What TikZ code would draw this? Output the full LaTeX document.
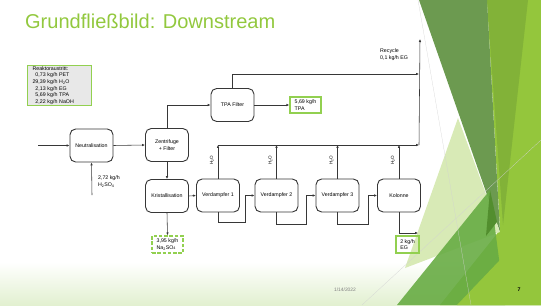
\documentclass[tikz,border=0pt]{standalone}
\usepackage{fontspec}
\setmainfont{Liberation Sans}
\usetikzlibrary{arrows.meta, positioning, calc}
\definecolor{titlegreen}{RGB}{146,200,62}
\definecolor{framegreen}{RGB}{146,208,80}
\definecolor{darkleaf}{RGB}{108,154,80}
\definecolor{deepleaf}{RGB}{82,142,46}
\definecolor{oliveleaf}{RGB}{130,178,56}
\definecolor{limeleaf}{RGB}{148,198,60}
\definecolor{paleleaf}{RGB}{216,234,182}
\definecolor{midleaf}{RGB}{104,172,68}
\definecolor{footgreen}{RGB}{226,240,208}
\definecolor{linegray}{RGB}{55,55,55}

\begin{document}
\begin{tikzpicture}[x=0.5mm, y=-0.5mm,
  unit/.style={draw=linegray, line width=1.3pt, rounded corners=8pt, fill=white, minimum width=21.5mm, minimum height=16.5mm, inner sep=0pt, align=center, font=\fontsize{7.5}{9}\selectfont},
  stream/.style={draw=framegreen, line width=2pt, inner sep=2pt, align=left, font=\fontsize{7.5}{9}\selectfont},
  flow/.style={draw=linegray, line width=0.8pt, -{Latex[length=4pt,width=3.5pt]}},
  lbl/.style={font=\fontsize{7.5}{9}\selectfont, align=left, inner sep=0pt},
  water/.style={font=\fontsize{6.5}{8}\selectfont, inner sep=0pt, rotate=90}
]
  \useasboundingbox (0,0) rectangle (541,305);
  % slide background
  \shade[top color=white, bottom color=footgreen] (0,262) rectangle (541,305);
  \fill[limeleaf] (487,0) -- (541,0) -- (541,305) -- (440,305) -- (500,230) -- cycle;
  \fill[oliveleaf] (487,0) -- (528,0) -- (503,225) -- cycle;
  \fill[darkleaf] (419,0) -- (487,0) -- (500,232) -- cycle;
  \fill[paleleaf] (458,118) -- (500,232) -- (405,268) -- cycle;
  \fill[midleaf, opacity=0.9] (397,305) -- (490,190) -- (505,305) -- cycle;
  \fill[deepleaf] (490,190) -- (497,222) -- (486,236) -- cycle;
  \fill[limeleaf] (457,305) -- (541,217) -- (541,305) -- cycle;
  \draw[gray!35, line width=0.3pt] (418,0) -- (471,305);
  \draw[gray!35, line width=0.3pt] (541,140) -- (362,305);
  \node[titlegreen, anchor=base west, inner sep=0pt, font=\fontsize{28.5}{30}\selectfont] (title) at (25,28) {Grundfließbild: Downstream};
  \node[anchor=base, inner sep=0pt, text=gray, font=\fontsize{7}{8}\selectfont] (date) at (345,291) {1/14/2022};
  \node[anchor=base, inner sep=0pt, font=\bfseries\fontsize{7.5}{8}\selectfont] (page) at (519,291) {7};

  % feed
  \node[draw=framegreen, line width=1.5pt, fill=black!9, anchor=north west, font=\fontsize{7.5}{9.3}\selectfont, align=left, text width=27mm, minimum height=18.5mm, inner xsep=2.5mm, inner ysep=1.5pt] (feed) at (27,65) {Reaktoraustritt:\\\phantom{2}0,73 kg/h PET\\29,39 kg/h H\textsubscript{2}O\\\phantom{2}2,13 kg/h EG\\\phantom{2}5,69 kg/h TPA\\\phantom{2}2,22 kg/h NaOH};

  % units
  \node[unit] (neutral) at (91.5,145.5) {Neutralisation};
  \node[unit] (zentri) at (167,145) {Zentrifuge\\+ Filter};
  \node[unit] (kristall) at (167,196) {Kristallisation};
  \node[unit] (tpafilt) at (232.5,105) {TPA Filter};
  \node[unit] (verd1) at (218,195.5) {Verdampfer 1};
  \node[unit] (verd2) at (276.5,195.5) {Verdampfer 2};
  \node[unit] (verd3) at (337.5,195.5) {Verdampfer 3};
  \node[unit] (kolonne) at (399,195.5) {Kolonne};

  % products
  \node[stream, minimum width=15.5mm, minimum height=8mm] (tpaout) at (305.5,105) {5,69 kg/h\\TPA};
  \node[stream, dash pattern=on 5pt off 2.5pt, minimum width=15.5mm, minimum height=8.5mm] (sulfat) at (167.5,244.5) {3,95 kg/h\\Na\textsubscript{2}SO\textsubscript{4}};
  \node[stream, minimum width=11.5mm, minimum height=8.5mm] (egout) at (407.5,244.5) {2 kg/h\\EG};

  % free ends
  \coordinate (feedin) at (38,145.5);
  \coordinate (acidin) at (92,195);
  \coordinate (recycle) at (419,74);
  \coordinate (collect) at (419,145);
  \coordinate (rectop) at (420,39);
  \coordinate (egend) at (418,233);

  % streams
  \draw[flow] (feedin) -- (neutral.west);
  \draw[flow] (acidin) -- (neutral.south);
  \node[lbl, anchor=north west] (acid) at (98,176) {2,72 kg/h\\H\textsubscript{2}SO\textsubscript{4}};
  \draw[flow] (neutral.east) -- (zentri.west);
  \draw[flow] (zentri.north) |- (tpafilt.west);
  \draw[flow] (zentri.south) -- (kristall.north);
  \draw[flow] (tpafilt.east) -- (tpaout.west);
  \draw[flow] (tpafilt.north) |- (recycle);
  \draw[flow] (kristall.east) -- (verd1.west);
  \draw[flow] (kristall.south) -- (sulfat.north);
  \draw[flow] (verd1.south) -- ++(0,10) -| ($(verd2.west)+(-9,0)$) -- (verd2.west);
  \draw[flow] (verd2.south) -- ++(0,12) -| ($(verd3.west)+(-9,0)$) -- (verd3.west);
  \draw[flow] (verd3.south) -- ++(0,12) -| ($(kolonne.west)+(-9,0)$) -- (kolonne.west);
  \draw[flow] (kolonne.south) |- (egend);

  % water vapour
  \foreach \u in {verd1,verd2,verd3,kolonne}{
    \draw[flow] (\u.north) -- (\u.north |- collect);
    \node[water] at ($(\u.north |- 0,160)+(-6,0)$) {H\textsubscript{2}O};
  }
  \draw[flow] (verd1.north |- collect) -- (collect);
  \draw[flow] (collect) -- (rectop);
  \node[lbl, anchor=north west] (reclabel) at (380,49) {Recycle\\0,1 kg/h EG};
\end{tikzpicture}
\end{document}
